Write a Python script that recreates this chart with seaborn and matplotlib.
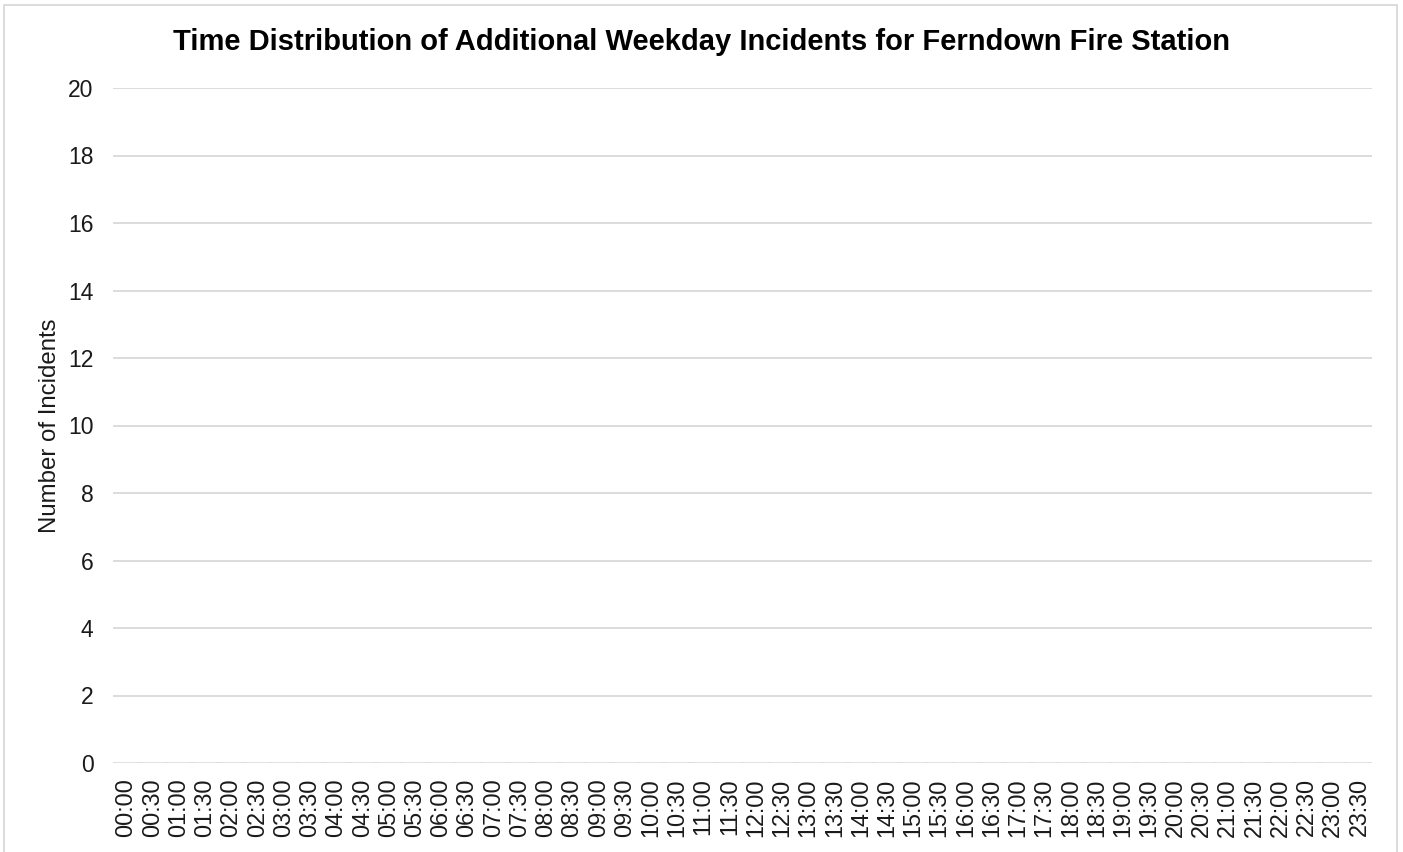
import matplotlib
matplotlib.use("Agg")
import matplotlib.pyplot as plt
import matplotlib.patches as mpatches
import seaborn as sns
import pandas as pd

times = [f"{h:02d}:{m:02d}" for h in range(24) for m in (0, 30)]
incidents = [0] * len(times)
y_ticks = [0, 2, 4, 6, 8, 10, 12, 14, 16, 18, 20]
title = "Time Distribution of Additional Weekday Incidents for Ferndown Fire Station"
y_label = "Number of Incidents"

sns.set_theme(style="white")
plt.rcParams["font.family"] = ["Liberation Sans", "DejaVu Sans"]

df = pd.DataFrame({"time": times, "incidents": incidents})

fig = plt.figure(figsize=(14.03, 8.52), dpi=100)
ax = fig.add_axes([113 / 1403, 1 - 763 / 852, (1372 - 113) / 1403, (763 - 88) / 852])

sns.barplot(data=df, x="time", y="incidents", color="#4472c4", ax=ax)

ax.set_ylim(0, 20)
ax.set_yticks(y_ticks)
ax.set_yticklabels([str(v) for v in y_ticks], fontsize=16.5, color="#1a1a1a")
ax.set_xticks(range(len(times)))
ax.set_xticklabels(times, rotation=90, fontsize=16.8, color="#1a1a1a")
ax.tick_params(axis="y", length=0, pad=14)
ax.tick_params(axis="x", length=0, pad=11)
ax.set_xlabel("")
ax.set_ylabel(y_label, fontsize=17.3, color="#1a1a1a", labelpad=5)
ax.grid(axis="y", color="#d9d9d9", linewidth=1.3)
ax.set_axisbelow(True)
for s in ax.spines.values():
    s.set_visible(False)

fig.text(0.5, 1 - 42 / 852, title, ha="center", va="center", fontsize=21, fontweight="bold", color="#000000")

frame = mpatches.Rectangle((4 / 1403, -0.05), (1397 - 4) / 1403, 1.05 - 5 / 852,
                           transform=fig.transFigure, fill=False, edgecolor="#d9d9d9", linewidth=1.3)
fig.patches.append(frame)

fig.savefig("out.png", dpi=100)
